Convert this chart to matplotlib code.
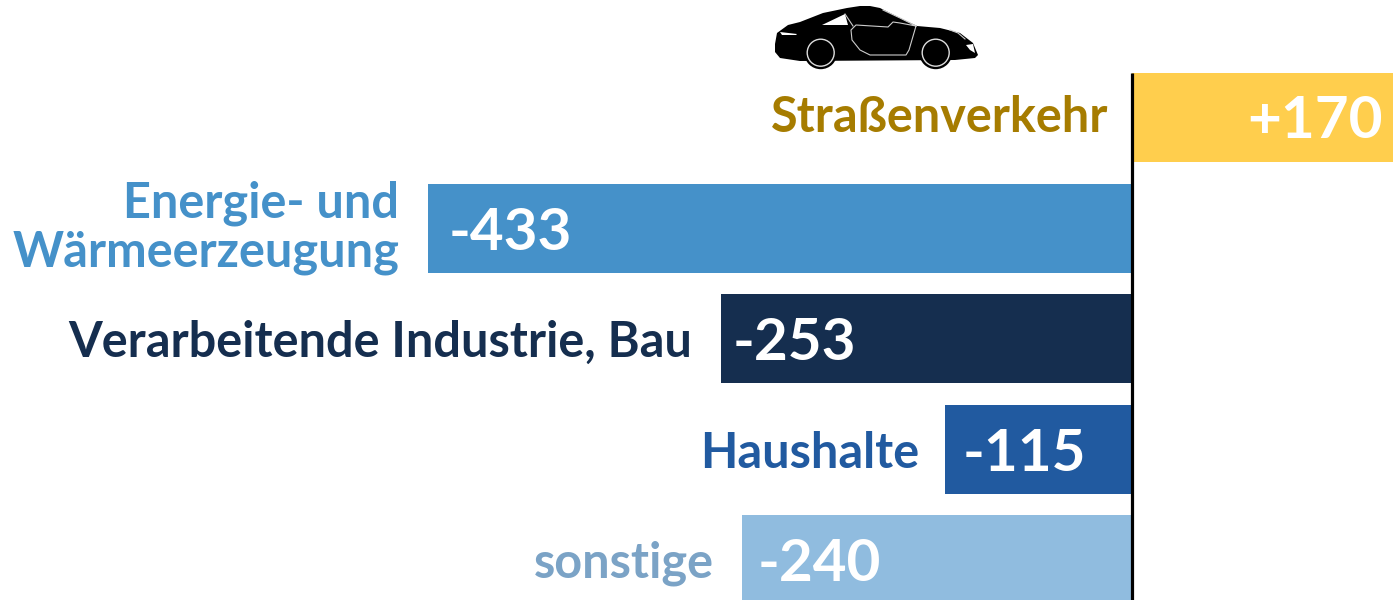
import numpy as np
import matplotlib
matplotlib.use('Agg')
import matplotlib.pyplot as plt
from matplotlib.patches import Polygon, Circle

# data
sectors = ['Straßenverkehr', 'Energie- und\nWärmeerzeugung', 'Verarbeitende Industrie, Bau', 'Haushalte', 'sonstige']
changes = [170, -433, -253, -115, -240]
value_labels = ['+170', '-433', '-253', '-115', '-240']
bar_colors = ['#FFCE4D', '#4591C9', '#152E4F', '#215AA0', '#90BCDF']
label_colors = ['#A67C00', '#4591C9', '#152E4F', '#215AA0', '#7BA3C6']

plt.rcParams['font.family'] = ['Lato', 'DejaVu Sans']

fig = plt.figure(figsize=(13.93, 6.0), dpi=100)
ax = fig.add_axes([0, 0, 1, 1])

# 1 unit = 1.625 px, zero line at x=1132
px = 1.625
ax.set_xlim(-1132 / px, (1393 - 1132) / px)
ax.set_ylim(600, 0)
ax.axis('off')

tops = [73, 184, 294, 405, 515]
height = 89
# gap between bar end and value text, in pixels
value_pad = [26, 20, 12, 17, 16]
label_dx = [1, 0, 1, 3, 1]
label_dy = [1, 0, 5, 5, 5]

for i in range(len(changes)):
    ax.barh(tops[i] + height / 2, changes[i], height=height, color=bar_colors[i], linewidth=0)
    mid = tops[i] + height / 2 - 1
    if changes[i] > 0:
        ax.text(changes[i] - value_pad[i] / px, mid + 5, value_labels[i], color='white', fontsize=42, fontweight='bold', ha='right', va='center')
        ax.text(-15 + label_dx[i] / px, mid + label_dy[i], sectors[i], color=label_colors[i], fontsize=35, fontweight='bold', ha='right', va='center')
    else:
        ax.text(changes[i] + value_pad[i] / px, mid + 6, value_labels[i], color='white', fontsize=42, fontweight='bold', ha='left', va='center')
        ax.text(changes[i] - 18 + label_dx[i] / px, mid + label_dy[i], sectors[i], color=label_colors[i], fontsize=35, fontweight='bold', ha='right', va='center', linespacing=1.1)

ax.plot([0, 0], [73, 600], color='black', linewidth=2.3, solid_capstyle='butt')

# car icon, drawn in pixel space
car_ax = fig.add_axes([0, 0, 1, 1])
car_ax.set_xlim(0, 1393)
car_ax.set_ylim(600, 0)
car_ax.axis('off')

body = [(775, 44), (777, 33), (788, 25), (800, 22), (823, 13), (847, 8), (860, 6), (870, 6), (880, 8), (890, 13), (900, 18), (917, 26), (940, 28), (960, 33), (973, 43), (978, 55), (975, 58), (955, 60), (800, 61), (780, 58), (775, 52)]
car_ax.add_patch(Polygon(body, closed=True, facecolor='black', edgecolor='none'))
for cx in [820.7, 935.7]:
    car_ax.add_patch(Circle((cx, 52.7), 16.5, facecolor='black', edgecolor='none'))
    car_ax.add_patch(Circle((cx, 52.7), 13.5, facecolor='black', edgecolor='#dddddd', linewidth=1))

# rear side window, rear light, front light, grille
car_ax.add_patch(Polygon([(822, 25), (845, 14), (848, 25)], closed=True, facecolor='white', edgecolor='none'))
car_ax.add_patch(Polygon([(780, 32), (797, 34), (796, 35), (782, 35)], closed=True, facecolor='white', edgecolor='none'))
car_ax.add_patch(Polygon([(966, 45), (973, 44), (975, 53), (970, 50)], closed=True, facecolor='white', edgecolor='none'))
car_ax.plot([950, 958, 965], [30, 33, 39], color='#cccccc', linewidth=0.8)

# door and front window outline
door_x = [883, 900, 916, 909, 906, 870, 860, 852, 851, 856, 888, 893, 900, 916]
door_y = [10, 18, 26, 50, 55, 55, 50, 40, 30, 25, 27, 22, 23, 26]
car_ax.plot(door_x, door_y, color='#cccccc', linewidth=0.8)
car_ax.plot([845, 849, 853], [14, 20, 26], color='#cccccc', linewidth=0.8)

fig.savefig('out.png', dpi=100)
